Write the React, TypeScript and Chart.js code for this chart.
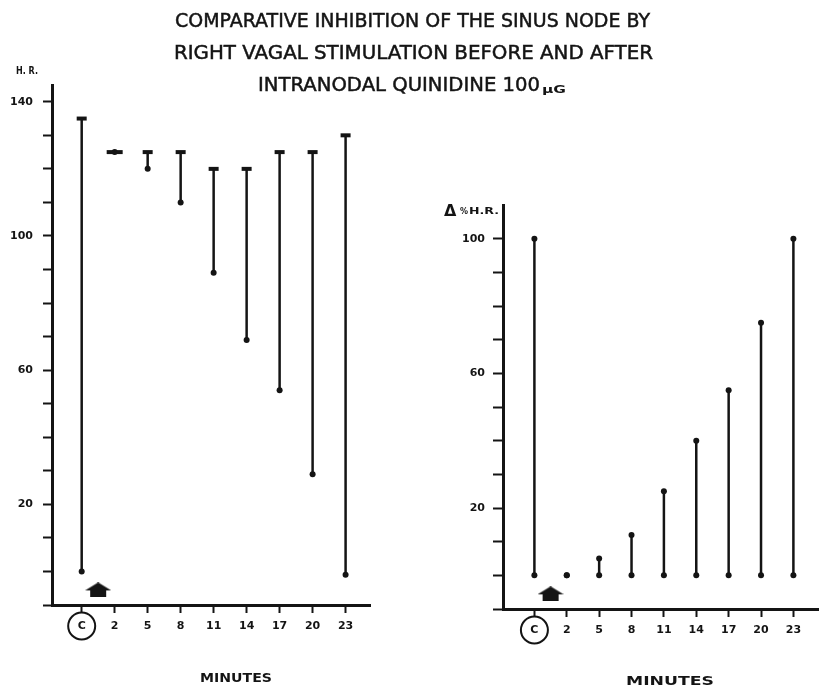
import React, { useEffect, useRef } from 'react';
import { Chart, registerables } from 'chart.js';

Chart.register(...registerables);

// Sampling times (C = control), heart rate before/during vagal stimulation,
// and percentage change of heart rate.
const minuteLabels = ['C', '2', '5', '8', '11', '14', '17', '20', '23'];
const hrBefore = [135, 125, 125, 125, 120, 120, 125, 125, 130];
const hrDuring = [0, 125, 120, 110, 89, 69, 54, 29, -1];
const pctChangeTop = [100, 0, 5, 12, 25, 40, 55, 75, 100];
const pctChangeBase = [0, 0, 0, 0, 0, 0, 0, 0, 0];

const hrTicks = [-10, 0, 10, 20, 30, 40, 50, 60, 70, 80, 90, 100, 110, 120, 130, 140];
const hrTickLabels = [20, 60, 100, 140];
const pctTicks = [-10, 0, 10, 20, 30, 40, 50, 60, 70, 80, 90, 100];
const pctTickLabels = [20, 60, 100];

// Quinidine injection, between the control reading and the 2-minute reading.
const injectionAt = 0.5;
const injectionMarkLevel = -5.5;

const INK = '#141414';
const tickFont = { family: 'DejaVu Sans', size: 11, weight: 'bold' as const };

function makeArrow(): HTMLCanvasElement {
  const c = document.createElement('canvas');
  c.width = 26;
  c.height = 15;
  const g = c.getContext('2d')!;
  g.fillStyle = INK;
  g.beginPath();
  g.moveTo(13, 0);
  g.lineTo(26, 8);
  g.lineTo(21, 8);
  g.lineTo(21, 15);
  g.lineTo(5, 15);
  g.lineTo(5, 8);
  g.lineTo(0, 8);
  g.closePath();
  g.fill();
  return c;
}

const circledControl = {
  id: 'circledControl',
  afterDraw(chart: any) {
    const xs = chart.scales.x;
    const ctx = chart.ctx;
    const cx = xs.getPixelForValue(0);
    const cy = xs.top + 21;
    ctx.save();
    ctx.strokeStyle = INK;
    ctx.lineWidth = 2;
    ctx.beginPath();
    ctx.arc(cx, cy, 13.5, 0, Math.PI * 2);
    ctx.stroke();
    ctx.restore();
  },
};

interface PanelSpec {
  top: number[];
  base: number[];
  yMin: number;
  yMax: number;
  yTicks: number[];
  yLabels: number[];
  xMin: number;
  xMax: number;
  yWidth: number;
  xHeight: number;
  padTop: number;
  padRight: number;
  yTickLen: number;
  yTickPad: number;
  topStyle: 'line' | 'circle';
}

function buildConfig(p: PanelSpec): any {
  const stems = p.top.map((t, i) => ({
    type: 'scatter',
    data: [
      { x: i, y: p.base[i] },
      { x: i, y: t },
    ],
    showLine: true,
    borderColor: INK,
    borderWidth: 2.5,
    pointRadius: 0,
    order: 2,
    clip: false,
  }));

  const tops = {
    type: 'scatter',
    data: p.top.map((y, i) => ({ x: i, y })),
    pointStyle: p.topStyle,
    radius: (ctx: any) =>
      p.topStyle === 'line'
        ? p.top[ctx.dataIndex] === p.base[ctx.dataIndex]
          ? 8
          : 5
        : 3,
    borderWidth: p.topStyle === 'line' ? 4 : 0,
    borderColor: INK,
    backgroundColor: INK,
    order: 0,
    clip: false,
  };

  const bases = {
    type: 'scatter',
    data: p.base.map((y, i) => ({ x: i, y })),
    pointStyle: 'circle',
    radius: 3,
    borderWidth: 0,
    backgroundColor: INK,
    order: 0,
    clip: false,
  };

  const injection = {
    type: 'scatter',
    data: [{ x: injectionAt, y: injectionMarkLevel }],
    pointStyle: makeArrow(),
    order: 0,
    clip: false,
  };

  return {
    type: 'scatter',
    data: { datasets: [tops, bases, injection, ...stems] },
    plugins: [circledControl],
    options: {
      responsive: false,
      animation: false,
      events: [],
      layout: { padding: { top: p.padTop, right: p.padRight, left: 0, bottom: 0 } },
      plugins: { legend: { display: false }, tooltip: { enabled: false }, title: { display: false } },
      scales: {
        x: {
          type: 'linear',
          min: p.xMin,
          max: p.xMax,
          bounds: 'data',
          afterBuildTicks: (s: any) => {
            s.ticks = minuteLabels.map((_, i) => ({ value: i }));
          },
          afterFit: (s: any) => {
            s.height = p.xHeight;
          },
          ticks: {
            autoSkip: false,
            maxRotation: 0,
            padding: 7,
            color: INK,
            font: tickFont,
            callback: (v: number) => minuteLabels[Math.round(v)] ?? '',
          },
          grid: { drawOnChartArea: false, drawTicks: true, tickLength: 8, tickWidth: 2, tickColor: INK },
          border: { display: true, width: 3, color: INK },
        },
        y: {
          type: 'linear',
          min: p.yMin,
          max: p.yMax,
          bounds: 'data',
          afterBuildTicks: (s: any) => {
            s.ticks = p.yTicks.map((v) => ({ value: v }));
          },
          afterFit: (s: any) => {
            s.width = p.yWidth;
          },
          ticks: {
            autoSkip: false,
            padding: p.yTickPad,
            color: INK,
            font: tickFont,
            callback: (v: number) => (p.yLabels.includes(v) ? String(v) : ''),
          },
          grid: { drawOnChartArea: false, drawTicks: true, tickLength: p.yTickLen, tickWidth: 2, tickColor: INK },
          border: { display: true, width: 3, color: INK },
        },
      },
    },
  };
}

export default function App() {
  const leftRef = useRef<HTMLCanvasElement>(null);
  const rightRef = useRef<HTMLCanvasElement>(null);

  useEffect(() => {
    const left = new Chart(
      leftRef.current!,
      buildConfig({
        top: hrBefore,
        base: hrDuring,
        yMin: -10,
        yMax: 145,
        yTicks: hrTicks,
        yLabels: hrTickLabels,
        xMin: -0.9,
        xMax: 8.74,
        yWidth: 52,
        xHeight: 81,
        padTop: 85,
        padRight: 41,
        yTickLen: 9,
        yTickPad: 10,
        topStyle: 'line',
      })
    );
    const right = new Chart(
      rightRef.current!,
      buildConfig({
        top: pctChangeTop,
        base: pctChangeBase,
        yMin: -10,
        yMax: 110,
        yTicks: pctTicks,
        yLabels: pctTickLabels,
        xMin: -0.97,
        xMax: 8.76,
        yWidth: 92,
        xHeight: 77,
        padTop: 205,
        padRight: 0,
        yTickLen: 10,
        yTickPad: 8,
        topStyle: 'circle',
      })
    );
    return () => {
      left.destroy();
      right.destroy();
    };
  }, []);

  const titleStyle = {
    fontFamily: 'DejaVu Sans',
    fontSize: 20,
    fill: INK,
    stroke: INK,
    strokeWidth: 0.5,
  } as const;
  const labelStyle = { fontFamily: 'DejaVu Sans', fontWeight: 'bold', fill: INK } as const;

  return (
    <div
      style={{
        position: 'fixed',
        left: 0,
        top: 0,
        width: 823,
        height: 686,
        background: '#fff',
        overflow: 'hidden',
      }}
    >
      <canvas ref={leftRef} width={411} height={686} style={{ position: 'absolute', left: 0, top: 0 }} />
      <canvas ref={rightRef} width={412} height={686} style={{ position: 'absolute', left: 411, top: 0 }} />
      <svg
        width={823}
        height={686}
        style={{ position: 'absolute', left: 0, top: 0, pointerEvents: 'none' }}
      >
        <text x={175} y={27} textLength={475} lengthAdjust="spacingAndGlyphs" style={titleStyle}>
          COMPARATIVE  INHIBITION OF THE SINUS NODE BY
        </text>
        <text x={174} y={59} textLength={479} lengthAdjust="spacingAndGlyphs" style={titleStyle}>
          RIGHT VAGAL STIMULATION BEFORE AND AFTER
        </text>
        <text x={258} y={91} textLength={282} lengthAdjust="spacingAndGlyphs" style={titleStyle}>
          INTRANODAL QUINIDINE 100
        </text>
        <text x={542} y={93} textLength={24} lengthAdjust="spacingAndGlyphs" style={{ ...labelStyle, fontSize: 11 }}>
          μG
        </text>

        <text x={16} y={74} textLength={22} lengthAdjust="spacingAndGlyphs" style={{ ...labelStyle, fontSize: 10 }}>
          H. R.
        </text>
        <text x={444} y={216} style={{ ...labelStyle, fontSize: 16 }}>
          Δ
        </text>
        <text x={460} y={214} style={{ ...labelStyle, fontSize: 8 }}>
          %
        </text>
        <text x={469} y={214} textLength={30} lengthAdjust="spacingAndGlyphs" style={{ ...labelStyle, fontSize: 9 }}>
          H.R.
        </text>

        <text x={200} y={682} textLength={72} lengthAdjust="spacingAndGlyphs" style={{ ...labelStyle, fontSize: 12 }}>
          MINUTES
        </text>
        <text x={626} y={685} textLength={88} lengthAdjust="spacingAndGlyphs" style={{ ...labelStyle, fontSize: 12 }}>
          MINUTES
        </text>
      </svg>
    </div>
  );
}
